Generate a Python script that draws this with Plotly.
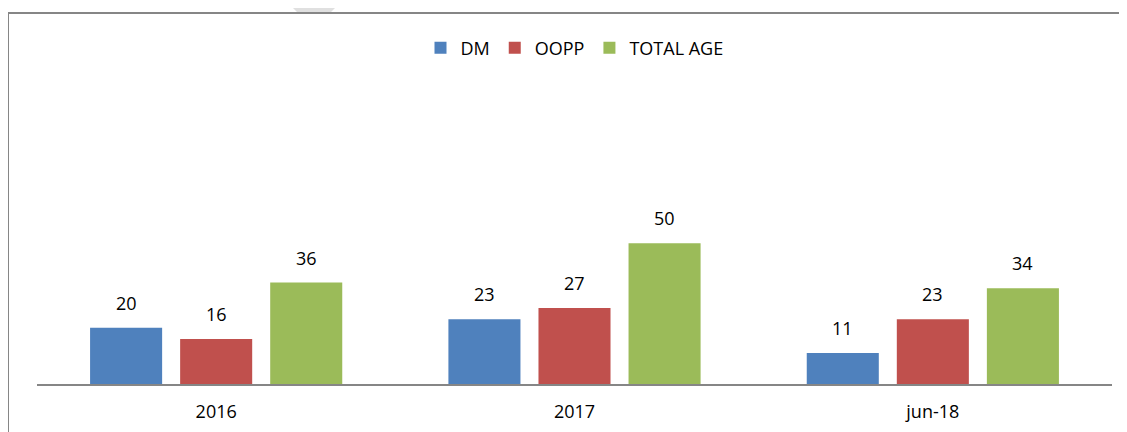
import plotly.graph_objects as go

categories = ["2016", "2017", "jun-18"]
series_names = ["DM", "OOPP", "TOTAL AGE"]
dm = [20, 23, 11]
oopp = [16, 27, 23]
total_age = [36, 50, 34]
series_values = [dm, oopp, total_age]
colors = ["#4F81BD", "#C0504D", "#9BBB59"]

FONT = "Open Sans"
FS = 18
OFF = 8  # page body margin
W, H = 1127 - OFF, 432 - OFF
L, R, T, B = 37 - OFF, 15, 215 - OFF, 48
pw, ph = W - L - R, H - T - B

fig = go.Figure()
for name, vals, col in zip(series_names, series_values, colors):
    fig.add_trace(go.Bar(x=categories, y=vals, name=name, marker_color=col,
                         marker_line_width=0))

annotations = []
for i, vals in enumerate(series_values):
    for j, v in enumerate(vals):
        # numeric index on a category axis (category names look numeric)
        annotations.append(dict(x=j, y=v, xref="x", yref="y", text=str(v),
                                showarrow=False, xshift=(i - 1) * 90, yshift=25,
                                yanchor="middle",
                                font=dict(family=FONT, size=FS, color="#000")))

def px(xs):  # screen px -> paper
    return (xs - OFF - L) / pw

def py(ys):
    return (H - B - (ys - OFF)) / ph

shapes = [
    dict(type="rect", xref="paper", yref="paper",
         x0=px(8), x1=px(1145), y0=py(450), y1=py(13),
         line=dict(color="#868686", width=2), fillcolor="rgba(0,0,0,0)", layer="below"),
    dict(type="path", xref="paper", yref="paper",
         path=f"M{px(285)},{py(0)} L{px(343)},{py(0)} L{px(331)},{py(12)} L{px(297)},{py(12)} Z",
         line=dict(width=0), fillcolor="#E0E0E0", layer="below"),
]

fig.update_layout(
    width=W, height=H,
    margin=dict(l=L, r=R, t=T, b=B, autoexpand=False),
    paper_bgcolor="white", plot_bgcolor="white",
    barmode="group", bargap=0.246, bargroupgap=0.2,
    font=dict(family=FONT, size=FS, color="#000"),
    showlegend=True,
    legend=dict(orientation="h", x=0.5, xanchor="center", y=py(48), yanchor="middle",
                font=dict(family=FONT, size=FS, color="#000"),
                itemwidth=30, traceorder="normal"),
    yaxis=dict(range=[0, 60], visible=False, showgrid=False, zeroline=False),
    annotations=annotations,
    shapes=shapes,
)
fig.update_xaxes(type="category", categoryorder="array", categoryarray=categories,
                 range=[-0.5, len(categories) - 0.5],
                 showline=True, linecolor="#868686", linewidth=2, ticks="",
                 showgrid=False, zeroline=False, ticklabelstandoff=10,
                 tickfont=dict(family=FONT, size=FS, color="#000"))

fig.write_html("out.html")
